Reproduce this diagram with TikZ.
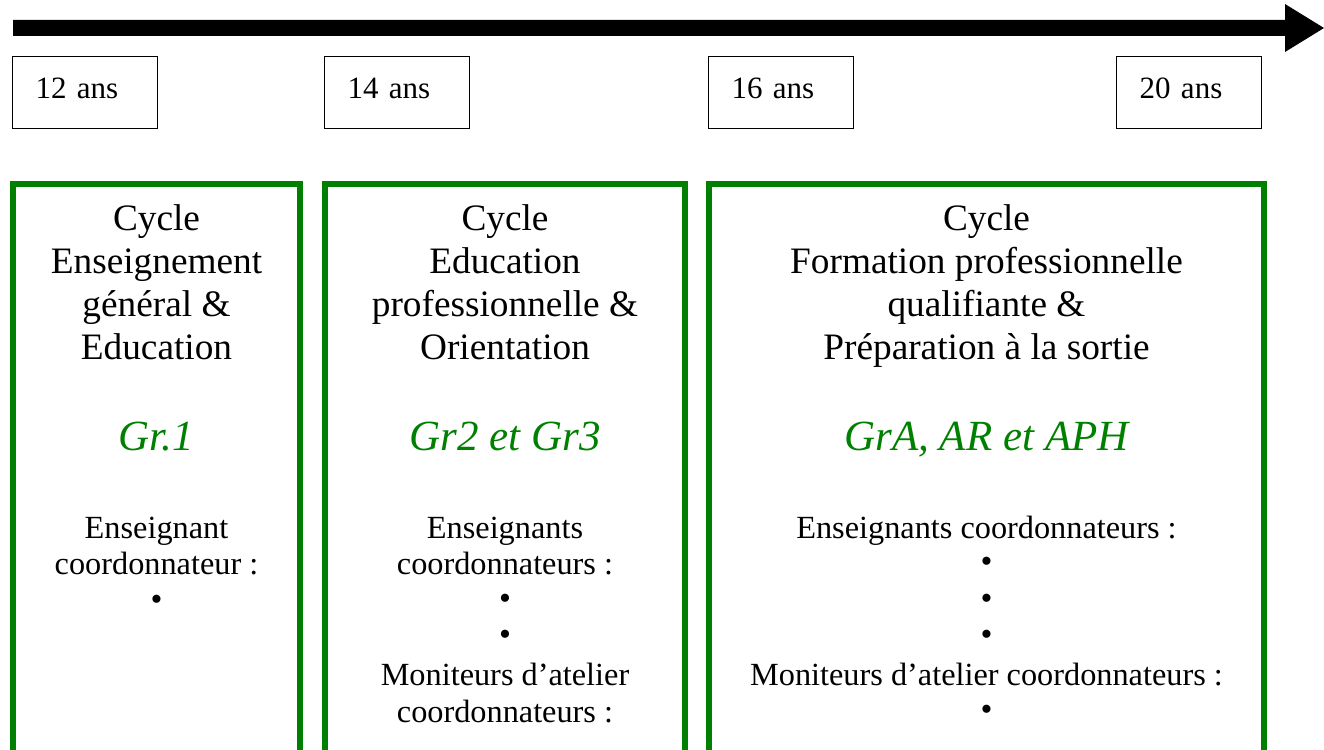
\documentclass[tikz,border=0pt]{standalone}
\usepackage{fontspec}
\setmainfont{Liberation Serif}
\definecolor{cyclegreen}{RGB}{0,128,0}
\begin{document}
\begin{tikzpicture}[x=1pt,y=-1pt,
  title/.style={anchor=base, inner sep=0pt, font=\fontsize{37.3}{43}\selectfont},
  grp/.style={anchor=base, inner sep=0pt, text=cyclegreen, font=\fontsize{43}{48}\selectfont\itshape},
  small/.style={anchor=base, inner sep=0pt, font=\fontsize{32.3}{37}\selectfont},
  dot/.style={anchor=center, inner sep=0pt, font=\fontsize{34}{38}\selectfont},
  agebox/.style={draw, line width=1.3pt, anchor=north west, inner xsep=23pt, inner ysep=0pt,
    text width=99pt, align=left, text height=42pt, text depth=30pt, font=\fontsize{31}{36}\selectfont},
  cyclebox/.style={draw=cyclegreen, line width=5.3pt},
]
\useasboundingbox (0,0) rectangle (1324,749);
\clip (0,0) rectangle (1324,749);

% timeline arrow
\fill (13,20) -- (1285,20) -- (1285,4) -- (1324,28) -- (1285,52) -- (1285,36) -- (13,36) -- cycle;

% age boxes
\node[agebox] (a12) at (12,56) {12 ans};
\node[agebox] (a14) at (324,56) {14 ans};
\node[agebox] (a16) at (708,56) {16 ans};
\node[agebox] (a20) at (1116,56) {20 ans};

% cycle boxes
\draw[cyclebox] (13,184) rectangle (300,800);
\draw[cyclebox] (325,184) rectangle (685,800);
\draw[cyclebox] (709,184) rectangle (1264,800);

% box 1
\node[title] (b1t1) at (156.5,230) {Cycle};
\node[title] (b1t2) at (156.5,273) {Enseignement};
\node[title] (b1t3) at (156.5,316) {général \&};
\node[title] (b1t4) at (156.5,359) {Education};
\node[grp] (b1g) at (156.5,450) {Gr.1};
\node[small] (b1s1) at (156.5,538) {Enseignant};
\node[small] (b1s2) at (156.5,574) {coordonnateur :};
\node[dot] (b1d1) at (156.5,603) {•};

% box 2
\node[title] (b2t1) at (505,230) {Cycle};
\node[title] (b2t2) at (505,273) {Education};
\node[title] (b2t3) at (505,316) {professionnelle \&};
\node[title] (b2t4) at (505,359) {Orientation};
\node[grp] (b2g) at (505,450) {Gr2 et Gr3};
\node[small] (b2s1) at (505,538) {Enseignants};
\node[small] (b2s2) at (505,574) {coordonnateurs :};
\node[dot] (b2d1) at (505,602) {•};
\node[dot] (b2d2) at (505,638) {•};
\node[small] (b2s3) at (505,685) {Moniteurs d’atelier};
\node[small] (b2s4) at (505,722) {coordonnateurs :};

% box 3
\node[title] (b3t1) at (986.5,230) {Cycle};
\node[title] (b3t2) at (986.5,273) {Formation professionnelle};
\node[title] (b3t3) at (986.5,316) {qualifiante \&};
\node[title] (b3t4) at (986.5,359) {Préparation à la sortie};
\node[grp] (b3g) at (986.5,450) {GrA, AR et APH};
\node[small] (b3s1) at (986.5,538) {Enseignants coordonnateurs :};
\node[dot] (b3d1) at (986.5,565) {•};
\node[dot] (b3d2) at (986.5,602) {•};
\node[dot] (b3d3) at (986.5,638) {•};
\node[small] (b3s2) at (986.5,685) {Moniteurs d’atelier coordonnateurs :};
\node[dot] (b3d4) at (986.5,713) {•};
\end{tikzpicture}
\end{document}
